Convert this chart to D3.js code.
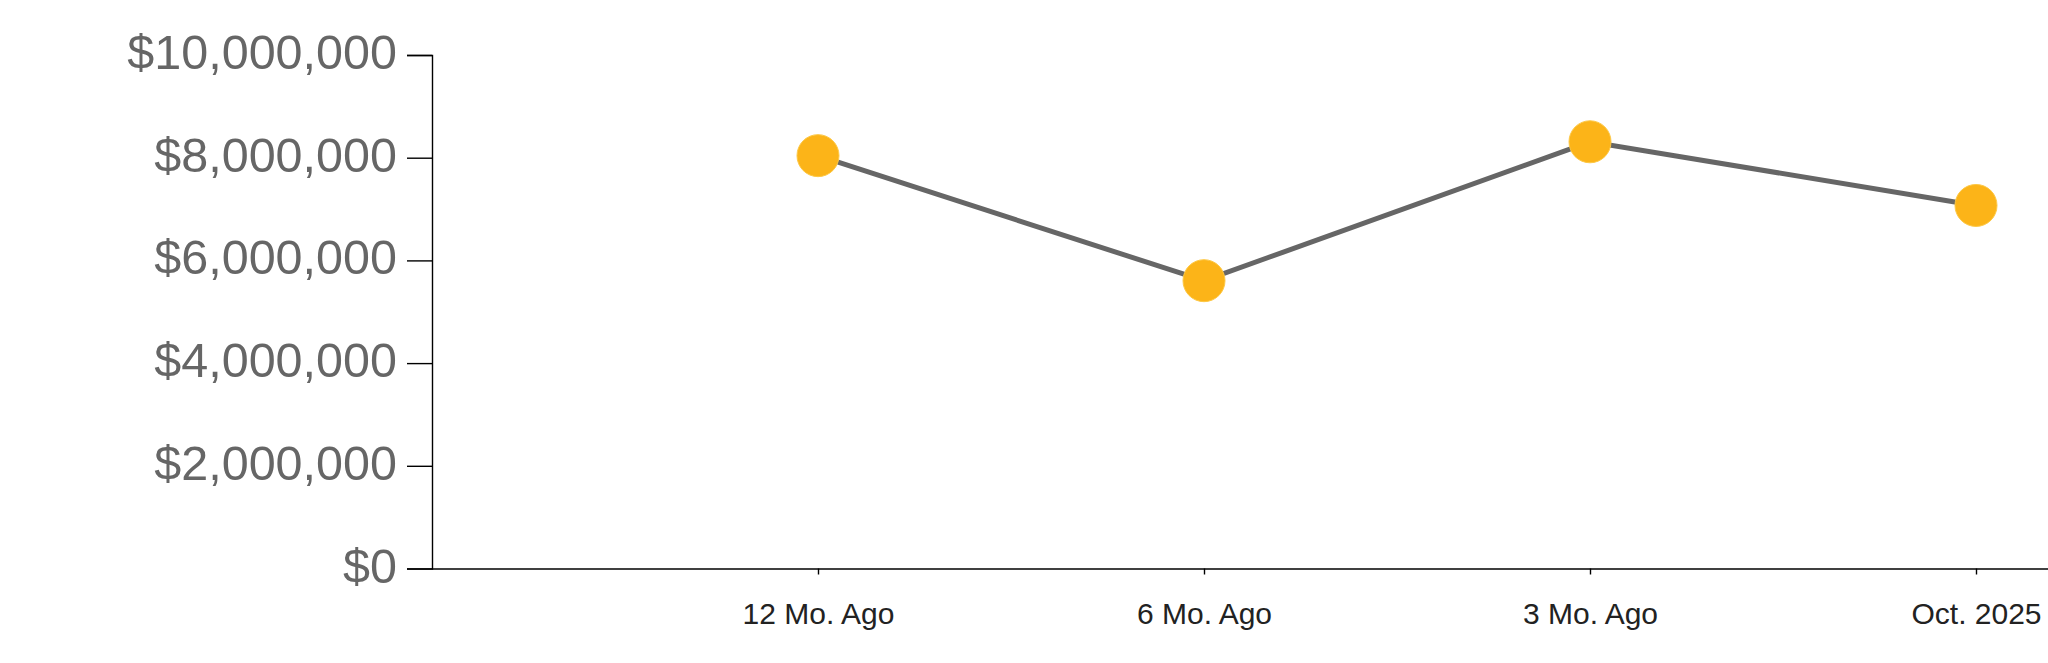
<!DOCTYPE html>
<html>
<head>
<meta charset="utf-8">
<script src="https://cdn.jsdelivr.net/npm/d3@7"></script>
<style>
  html, body { margin: 0; padding: 0; background: #fff; }
  svg { display: block; }
</style>
</head>
<body>
<script>
const categories = ["12 Mo. Ago", "6 Mo. Ago", "3 Mo. Ago", "Oct. 2025"];
const values = [8040000, 5605000, 8310000, 7070000];
const yTicks = [0, 2000000, 4000000, 6000000, 8000000, 10000000];

const W = 2048, H = 663;
const x0 = 432, y0 = 568.5, yTop = 55;
const step = 386;

const svg = d3.select("body").append("svg").attr("width", W).attr("height", H);

const x = d3.scalePoint().domain(categories).range([x0 + step, x0 + step * categories.length]);
const y = d3.scaleLinear().domain([0, 10000000]).range([y0, yTop]);

// y axis
const yAxis = d3.axisLeft(y).tickValues(yTicks).tickSize(25).tickPadding(10)
  .tickFormat(d => "$" + d3.format(",")(d));
const gy = svg.append("g").attr("transform", `translate(${x0},0)`).call(yAxis);
gy.selectAll("path, line").attr("stroke", "#000").attr("stroke-width", 1.4);
gy.selectAll("text").attr("fill", "#666").attr("font-family", "Liberation Sans, Arial, sans-serif")
  .attr("font-size", 48.5).attr("dy", "0.28em");

// x axis
const xAxis = d3.axisBottom(x).tickSize(6).tickSizeOuter(0).tickPadding(28);
const gx = svg.append("g").attr("transform", `translate(0,${y0})`).call(xAxis);
gx.select("path.domain").attr("d", `M${x0},0.5H${W}`);
gx.selectAll("path, line").attr("stroke", "#000").attr("stroke-width", 1.4);
gx.selectAll("text").attr("fill", "#222").attr("font-family", "Liberation Sans, Arial, sans-serif")
  .attr("font-size", 30).attr("dy", "0.71em");

// line
const data = categories.map((c, i) => ({c, v: values[i]}));
svg.append("path").datum(data)
  .attr("fill", "none").attr("stroke", "#666").attr("stroke-width", 5)
  .attr("d", d3.line().x(d => x(d.c)).y(d => y(d.v)));

svg.append("g").selectAll("circle").data(data).join("circle")
  .attr("cx", d => x(d.c)).attr("cy", d => y(d.v)).attr("r", 21)
  .attr("fill", "#FCB418").attr("stroke", "#FDC845").attr("stroke-width", 1);
</script>
</body>
</html>
